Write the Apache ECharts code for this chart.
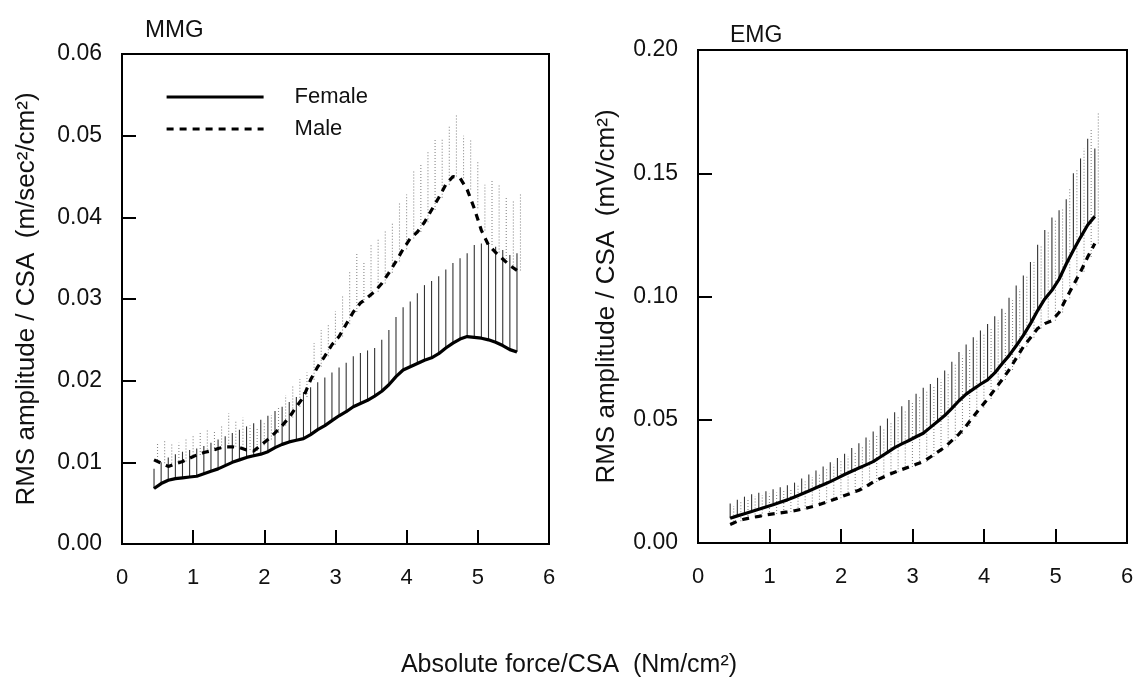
<!DOCTYPE html>
<html>
<head>
<meta charset="utf-8">
<script src="https://cdn.jsdelivr.net/npm/echarts@6/dist/echarts.min.js"></script>
<style>html,body{margin:0;padding:0;background:#fff;}#c{width:1138px;height:682px;}</style>
</head>
<body>
<div id="c"></div>
<script>
// Shared force levels (Nm/cm²)
const forceX = [0.45,0.55,0.65,0.75,0.85,0.95,1.05,1.15,1.25,1.35,1.45,1.55,1.65,1.75,1.85,1.95,2.05,2.15,2.25,2.35,2.45,2.55,2.65,2.75,2.85,2.95,3.05,3.15,3.25,3.35,3.45,3.55,3.65,3.75,3.85,3.95,4.05,4.15,4.25,4.35,4.45,4.55,4.65,4.75,4.85,4.95,5.05,5.15,5.25,5.35,5.45,5.55];

// MMG (m/sec²/cm²)
const mmgFemaleMean = [0.0068,0.0074,0.0078,0.0080,0.0081,0.0082,0.0083,0.0086,0.0089,0.0092,0.0096,0.0100,0.0103,0.0106,0.0108,0.0110,0.0113,0.0118,0.0122,0.0125,0.0127,0.0129,0.0134,0.0140,0.0145,0.0151,0.0157,0.0162,0.0168,0.0172,0.0176,0.0181,0.0187,0.0195,0.0205,0.0213,0.0217,0.0221,0.0225,0.0228,0.0233,0.0240,0.0246,0.0251,0.0254,0.0253,0.0252,0.0250,0.0247,0.0243,0.0238,0.0235];
const mmgFemaleUpper = [0.0092,0.0100,0.0106,0.0110,0.0113,0.0115,0.0117,0.0120,0.0124,0.0128,0.0132,0.0136,0.0140,0.0144,0.0148,0.0152,0.0157,0.0163,0.0168,0.0174,0.0180,0.0186,0.0192,0.0198,0.0204,0.0210,0.0216,0.0222,0.0230,0.0234,0.0237,0.0240,0.0250,0.0262,0.0278,0.0290,0.0297,0.0307,0.0317,0.0322,0.0328,0.0336,0.0344,0.0350,0.0356,0.0366,0.0368,0.0368,0.0364,0.0360,0.0354,0.0356];
const mmgMaleMean = [0.0103,0.0099,0.0095,0.0098,0.0101,0.0105,0.0109,0.0112,0.0114,0.0117,0.0119,0.0119,0.0118,0.0115,0.0114,0.0121,0.0128,0.0136,0.0145,0.0155,0.0168,0.0180,0.0201,0.0217,0.0230,0.0244,0.0254,0.0269,0.0284,0.0295,0.0302,0.0309,0.0319,0.0332,0.0346,0.0361,0.0374,0.0382,0.0394,0.0409,0.0424,0.0440,0.0450,0.0448,0.0434,0.0411,0.0384,0.0366,0.0357,0.0349,0.0341,0.0335];
const mmgMaleUpper = [0.0125,0.0128,0.0124,0.0124,0.0128,0.0133,0.0138,0.0140,0.0138,0.0145,0.0160,0.0150,0.0155,0.0145,0.0142,0.0150,0.0158,0.0168,0.0182,0.0195,0.0202,0.0210,0.0246,0.0262,0.0270,0.0285,0.0303,0.0335,0.0355,0.0345,0.0368,0.0375,0.0385,0.0392,0.0418,0.0428,0.0458,0.0466,0.0480,0.0495,0.0497,0.0512,0.0525,0.0500,0.0495,0.0470,0.0440,0.0445,0.0440,0.0425,0.0420,0.0430];

// EMG (mV/cm²)
const emgFemaleMean = [0.0100,0.0110,0.0119,0.0128,0.0137,0.0146,0.0155,0.0165,0.0175,0.0187,0.0199,0.0211,0.0224,0.0236,0.0249,0.0263,0.0278,0.0291,0.0304,0.0317,0.0330,0.0349,0.0368,0.0387,0.0402,0.0416,0.0431,0.0445,0.0469,0.0493,0.0517,0.0546,0.0577,0.0604,0.0624,0.0644,0.0662,0.0690,0.0726,0.0760,0.0800,0.0842,0.0890,0.0943,0.0990,0.1025,0.1070,0.1132,0.1188,0.1240,0.1290,0.1325];
const emgFemaleUpper = [0.0160,0.0175,0.0188,0.0198,0.0204,0.0210,0.0218,0.0226,0.0234,0.0245,0.0262,0.0278,0.0294,0.0310,0.0328,0.0345,0.0362,0.0385,0.0405,0.0428,0.0452,0.0476,0.0505,0.0530,0.0555,0.0580,0.0605,0.0630,0.0645,0.0670,0.0700,0.0735,0.0775,0.0805,0.0835,0.0862,0.0888,0.0920,0.0950,0.0995,0.1045,0.1085,0.1140,0.1210,0.1270,0.1320,0.1350,0.1395,0.1500,0.1560,0.1640,0.1600];
const emgMaleMean = [0.0075,0.0088,0.0097,0.0103,0.0108,0.0114,0.0118,0.0122,0.0126,0.0131,0.0137,0.0144,0.0151,0.0161,0.0171,0.0182,0.0193,0.0203,0.0214,0.0229,0.0247,0.0262,0.0275,0.0287,0.0298,0.0308,0.0319,0.0330,0.0349,0.0369,0.0388,0.0415,0.0442,0.0475,0.0512,0.0549,0.0584,0.0623,0.0661,0.0702,0.0749,0.0796,0.0833,0.0870,0.0890,0.0902,0.0935,0.0993,0.1046,0.1100,0.1160,0.1215];
const emgMaleUpper = [0.0150,0.0165,0.0180,0.0190,0.0195,0.0200,0.0205,0.0212,0.0222,0.0235,0.0250,0.0268,0.0285,0.0300,0.0318,0.0335,0.0352,0.0372,0.0395,0.0418,0.0440,0.0465,0.0492,0.0518,0.0542,0.0568,0.0592,0.0618,0.0640,0.0662,0.0690,0.0725,0.0760,0.0790,0.0820,0.0850,0.0875,0.0905,0.0940,0.0985,0.1030,0.1080,0.1140,0.1205,0.1260,0.1310,0.1360,0.1440,0.1520,0.1600,0.1680,0.1750];

const mmgTicks = ['0.00','0.01','0.02','0.03','0.04','0.05','0.06'];
const emgTicks = ['0.00','0.05','0.10','0.15','0.20'];

const FONT = 'Liberation Sans, Arial, Helvetica, sans-serif';

function pairs(xs, ys){ return xs.map((x,i)=>[x, ys[i]]); }
function bars(xs, lo, hi){ return xs.map((x,i)=>[x, lo[i], hi[i]]); }

function barSeries(name, idx, data, color, dash, offset){
  return {
    name: name, type: 'custom', xAxisIndex: idx, yAxisIndex: idx, z: 1, silent: true,
    renderItem: function(params, api){
      const a = api.coord([api.value(0), api.value(1)]);
      const b = api.coord([api.value(0), api.value(2)]);
      return {type:'line', shape:{x1:a[0]+offset, y1:a[1], x2:b[0]+offset, y2:b[1]},
        style:{stroke: color, lineWidth: 1.1, lineDash: dash}};
    },
    data: data
  };
}

function lineSeries(name, idx, data, dashed){
  return {
    name: name, type: 'line', xAxisIndex: idx, yAxisIndex: idx, z: 5,
    showSymbol: false, symbol: 'none', smooth: false, data: data,
    itemStyle: {color: '#000'},
    lineStyle: {color:'#000', width: 3.2, type: dashed ? [7,6] : 'solid'}
  };
}

function xAxisOf(idx){
  return {
    gridIndex: idx, type: 'value', min: 0, max: 6, interval: 1,
    axisLine: {show: true, lineStyle: {color: '#000', width: 2}},
    axisTick: {show: true, inside: true, length: 14, lineStyle: {color:'#000', width: 2}},
    axisLabel: {color: '#111', fontSize: 22, fontFamily: FONT, margin: 23},
    splitLine: {show: false}
  };
}
function yAxisOf(idx, max, interval, ticks, name, gap){
  return {
    gridIndex: idx, type: 'value', min: 0, max: max, interval: interval,
    name: name, nameLocation: 'middle', nameGap: gap,
    nameTextStyle: {color:'#111', fontSize: 26, fontFamily: FONT},
    axisLine: {show: true, lineStyle: {color: '#000', width: 2}},
    axisTick: {show: true, inside: true, length: 14, lineStyle: {color:'#000', width: 2}},
    axisLabel: {color: '#111', fontSize: 23, fontFamily: FONT, margin: 20,
      formatter: function(v){ return ticks[Math.round(v/interval)]; }},
    splitLine: {show: false}
  };
}

const chart = echarts.init(document.getElementById('c'), null, {renderer: 'canvas'});
chart.setOption({
  backgroundColor: '#fff',
  animation: false,
  title: [
    {text: 'MMG', left: 140, top: 13, textStyle: {fontSize: 24, fontWeight: 'normal', color: '#111', fontFamily: FONT}},
    {text: 'EMG', left: 725, top: 19, textStyle: {fontSize: 23, fontWeight: 'normal', color: '#111', fontFamily: FONT}},
    {text: 'Absolute force/CSA  (Nm/cm²)', left: 'center', top: 648, textStyle: {fontSize: 25, fontWeight: 'normal', color: '#111', fontFamily: FONT}}
  ],
  legend: {
    orient: 'vertical', left: 160, top: 81, itemWidth: 97, itemHeight: 14, itemGap: 10,
    data: ['Female', 'Male'],
    itemStyle: {color: 'rgba(0,0,0,0)', borderWidth: 0, opacity: 0},
    lineStyle: {width: 3.2, color: '#000'},
    textStyle: {fontSize: 22, color: '#111', fontFamily: FONT, padding: [0,0,0,26]},
    selectedMode: false
  },
  grid: [
    {left: 122, top: 54, width: 427, height: 490, show: true, borderColor: '#000', borderWidth: 2},
    {left: 698, top: 50, width: 429, height: 493, show: true, borderColor: '#000', borderWidth: 2}
  ],
  xAxis: [xAxisOf(0), xAxisOf(1)],
  yAxis: [
    yAxisOf(0, 0.06, 0.01, mmgTicks, 'RMS amplitude / CSA  (m/sec²/cm²)', 82),
    yAxisOf(1, 0.20, 0.05, emgTicks, 'RMS amplitude / CSA  (mV/cm²)', 78)
  ],
  series: [
    barSeries('mmgFemaleSD', 0, bars(forceX, mmgFemaleMean, mmgFemaleUpper), '#333', null, 0),
    barSeries('mmgMaleSD', 0, bars(forceX, mmgMaleMean, mmgMaleUpper), '#888', [1,2], 3.5),
    lineSeries('Female', 0, pairs(forceX, mmgFemaleMean), false),
    lineSeries('Male', 0, pairs(forceX, mmgMaleMean), true),
    barSeries('emgFemaleSD', 1, bars(forceX, emgFemaleMean, emgFemaleUpper), '#333', null, 0),
    barSeries('emgMaleSD', 1, bars(forceX, emgMaleMean, emgMaleUpper), '#888', [1,2], 3.5),
    lineSeries('Female', 1, pairs(forceX, emgFemaleMean), false),
    lineSeries('Male', 1, pairs(forceX, emgMaleMean), true)
  ]
});
</script>
</body>
</html>
